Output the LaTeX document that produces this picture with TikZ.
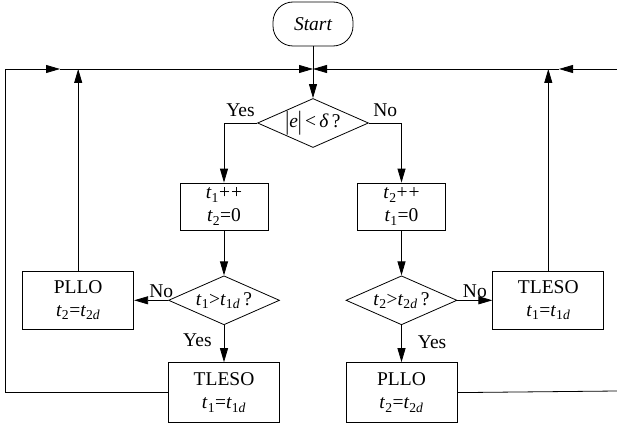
\documentclass[tikz,border=0pt]{standalone}
\usepackage{fontspec}
\setmainfont{Liberation Serif}
\usetikzlibrary{shapes,arrows.meta,positioning}
\newcommand{\tvar}[1]{\textit{t}\textsubscript{#1}}
\newcommand{\vbar}{\raisebox{-0.25ex}{\scalebox{1}[1.35]{|}}}

\begin{document}
\begin{tikzpicture}[
        x=1pt, y=1pt,
        term/.style={rectangle, rounded corners=20pt, draw, minimum width=80pt, minimum height=44pt, font=\fontsize{19.5}{23}\selectfont\itshape},
        box/.style={rectangle, draw, minimum width=88pt, minimum height=47pt, align=center, font=\fontsize{19.5}{23}\selectfont},
        wbox/.style={box, minimum width=111pt, minimum height=58pt},
        dec/.style={diamond, draw, minimum width=111pt, minimum height=49pt, inner sep=0pt, aspect=2.2, font=\fontsize{19.5}{23}\selectfont},
        lab/.style={font=\fontsize{19.5}{23}\selectfont, inner sep=2pt},
        arrow/.style={-{Triangle[length=14pt, width=8pt]}, line width=0.8pt},
        line width=0.8pt
    ]
        \useasboundingbox (0,0) rectangle (617,-425);
        \node[term] (st) at (313,-24) {Start};
        \node[dec] (d0) at (313,-123) {\vbar\textit{e}\vbar\,<\,\textit{δ}\,?};
        \node[box] (b1) at (224,-206.5) {\tvar{1}+\kern1pt+\\\tvar{2}=0};
        \node[box] (b2) at (401.5,-206.5) {\tvar{2}+\kern1pt+\\\tvar{1}=0};
        \node[dec, below=45pt of b1] (d1) {\tvar{1}>\tvar{1\textit{d}}\,?};
        \node[dec, below=45pt of b2] (d2) {\tvar{2}>\tvar{2\textit{d}}\,?};
        \node[wbox, left=34pt of d1] (pl) {PLLO\\\tvar{2}=\tvar{2\textit{d}}};
        \node[wbox, right=35pt of d2] (tr) {TLESO\\\tvar{1}=\tvar{1\textit{d}}};
        \node[wbox, below=37pt of d1, minimum height=60pt] (tl) {TLESO\\\tvar{1}=\tvar{1\textit{d}}};
        \node[wbox, below=37pt of d2, minimum height=60pt] (pr) {PLLO\\\tvar{2}=\tvar{2\textit{d}}};
        \coordinate (jn) at (313,-69);
        \coordinate (lc) at (5,-69);
        \coordinate (la) at (60,-69);
        \coordinate (rt) at (617,-69);
        \coordinate (ra) at (559,-69);
        \coordinate (rb) at (617,-391);
        \draw[arrow] (st) -- (d0);
        \draw[arrow] (d0.west) node[lab, above left, yshift=4pt] {Yes} -| (b1);
        \draw[arrow] (d0.east) node[lab, above right, xshift=2pt, yshift=4pt] {No} -| (b2);
        \draw[arrow] (b1) -- (d1);
        \draw[arrow] (b2) -- (d2);
        \draw[arrow] (d1.west) -- (pl) node[lab, pos=0.2, above] {No};
        \draw[arrow] (d1) -- (tl) node[lab, pos=0.4, left=10pt] {Yes};
        \draw[arrow] (d2.east) -- (tr) node[lab, midway, above] {No};
        \draw[arrow] (d2) -- (pr) node[lab, pos=0.45, right=14pt] {Yes};
        \draw[arrow] (pl) -- (pl |- jn);
        \draw[arrow] (tr) -- (tr |- jn);
        \draw[arrow] (tl.west) -| (lc) -- (la);
        \draw[arrow] (la) -- (jn);
        \draw (pr.east) -- (rb);
        \draw[arrow] (rt) -- (ra);
        \draw[arrow] (ra) -- (jn);
    \end{tikzpicture}
\end{document}
